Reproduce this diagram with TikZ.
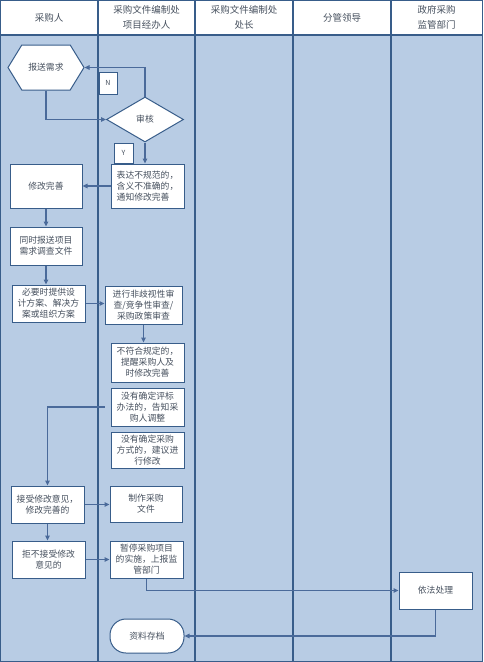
\documentclass[tikz,border=0pt]{standalone}
\usepackage{fontspec}
\newfontfamily\cjk{Noto Sans CJK SC}
\usetikzlibrary{arrows.meta,shapes.geometric,shapes.symbols}
\definecolor{lane}{HTML}{B8CCE4}
\definecolor{rule}{HTML}{385D8A}
\definecolor{flow}{HTML}{4A6A9A}
\definecolor{ink}{HTML}{46505E}

\begin{document}
\begin{tikzpicture}[x=1pt, y=-1pt,
  box/.style={draw=rule, line width=1pt, fill=white, minimum width=73pt, minimum height=38pt, inner sep=1pt, align=center, font=\cjk\fontsize{8.8}{11}\selectfont, text=ink},
  hd/.style={align=center, font=\cjk\fontsize{9.5}{15}\selectfont, text=ink},
  tag/.style={draw=rule, line width=1pt, fill=white, font=\cjk\fontsize{7}{8}\selectfont, text=ink, inner sep=0pt},
  ln/.style={draw=flow, line width=1.1pt, -{Triangle[length=5pt,width=4.5pt]}}
]
\useasboundingbox (0,0) rectangle (483,662);
% lanes
\fill[lane] (0,35) rectangle (483,662);
\draw[rule, line width=1.2pt] (0.6,0.6) rectangle (482.4,661.4);
\draw[rule, line width=1.2pt] (0,35) -- (483,35);
\foreach \x in {98,195,293,391} \draw[rule, line width=1.2pt] (\x,0) -- (\x,662);
\node[hd] (h1) at (49,17.5) {采购人};
\node[hd] (h2) at (146.5,17.5) {采购文件编制处\\项目经办人};
\node[hd] (h3) at (244,17.5) {采购文件编制处\\处长};
\node[hd] (h4) at (342,17.5) {分管领导};
\node[hd] (h5) at (436.5,17.5) {政府采购\\监管部门};
% request and check
\node[box, shape=signal, signal to=west and east, signal pointer angle=117, minimum width=76pt, minimum height=45pt, inner sep=0pt] (baosong) at (46,67.5) {报送需求};
\node[box, diamond, minimum width=77pt, minimum height=45pt, inner sep=0pt] (shenhe) at (145,119.5) {审核};
\node[tag, minimum width=18pt, minimum height=22pt] (tagn) at (108,83) {N};
\node[tag, minimum width=19pt, minimum height=20pt] (tagy) at (123.5,153) {Y};
\node[box, align=left, minimum height=44pt] (biaoda) at (147.5,186) {表达不规范的，\\含义不准确的，\\通知修改完善};
\node[box, minimum width=72pt, minimum height=44pt] (xiugai) at (46,186) {修改完善};
\node[box, minimum width=72pt] (tongshi) at (46,246) {同时报送项目\\需求调查文件};
\node[box, minimum height=37pt] (biyao) at (48.5,303.5) {必要时提供设\\计方案、解决方\\案或组织方案};
% review
\node[box, minimum width=77pt] (jinxing) at (143.5,305) {进行非歧视性审\\查/竞争性审查/\\采购政策审查};
\node[box, minimum height=39pt] (bufuhe) at (147.5,362.5) {不符合规定的，\\提醒采购人及\\时修改完善};
\node[box] (pingbiao) at (147.5,407) {没有确定评标\\办法的，告知采\\购人调整};
\node[box, minimum height=36pt] (fangshi) at (147.5,450) {没有确定采购\\方式的，建议进\\行修改};
% outcome
\node[box, minimum height=37pt] (jieshou) at (47.5,504.5) {接受修改意见，\\修改完善的};
\node[box, minimum width=72pt, minimum height=36pt] (zhizuo) at (146,504) {制作采购\\文件};
\node[box, minimum height=37pt] (jubu) at (48.5,559.5) {拒不接受修改\\意见的};
\node[box, minimum height=37pt] (zanting) at (146.5,559.5) {暂停采购项目\\的实施，上报监\\管部门};
\node[box, minimum height=37pt] (yifa) at (435.5,590.5) {依法处理};
\node[box, rounded corners=16pt, minimum width=74pt, minimum height=34pt] (ziliao) at (147,636) {资料存档};
% connectors
\draw[ln] (baosong.south) |- (shenhe.west);
\draw[ln] (shenhe.north) |- (baosong.east);
\foreach \a/\b in {shenhe.south/biaoda.north, xiugai.south/tongshi.north, tongshi.south/biyao.north, jinxing.south/bufuhe.north, jieshou.south/jubu.north}
  \draw[ln] (\a) -- (\a |- \b);
\foreach \a/\b in {biaoda.west/xiugai.east, biyao.east/jinxing.west, jieshou.east/zhizuo.west, jubu.east/zanting.west}
  \draw[ln] (\a) -- (\a -| \b);
\draw[ln] ([xshift=-6pt]pingbiao.west) -| (jieshou.north);
\draw[ln] (zanting.south) |- (yifa.west);
\draw[ln] (yifa.south) |- (ziliao.east);
\end{tikzpicture}
\end{document}
